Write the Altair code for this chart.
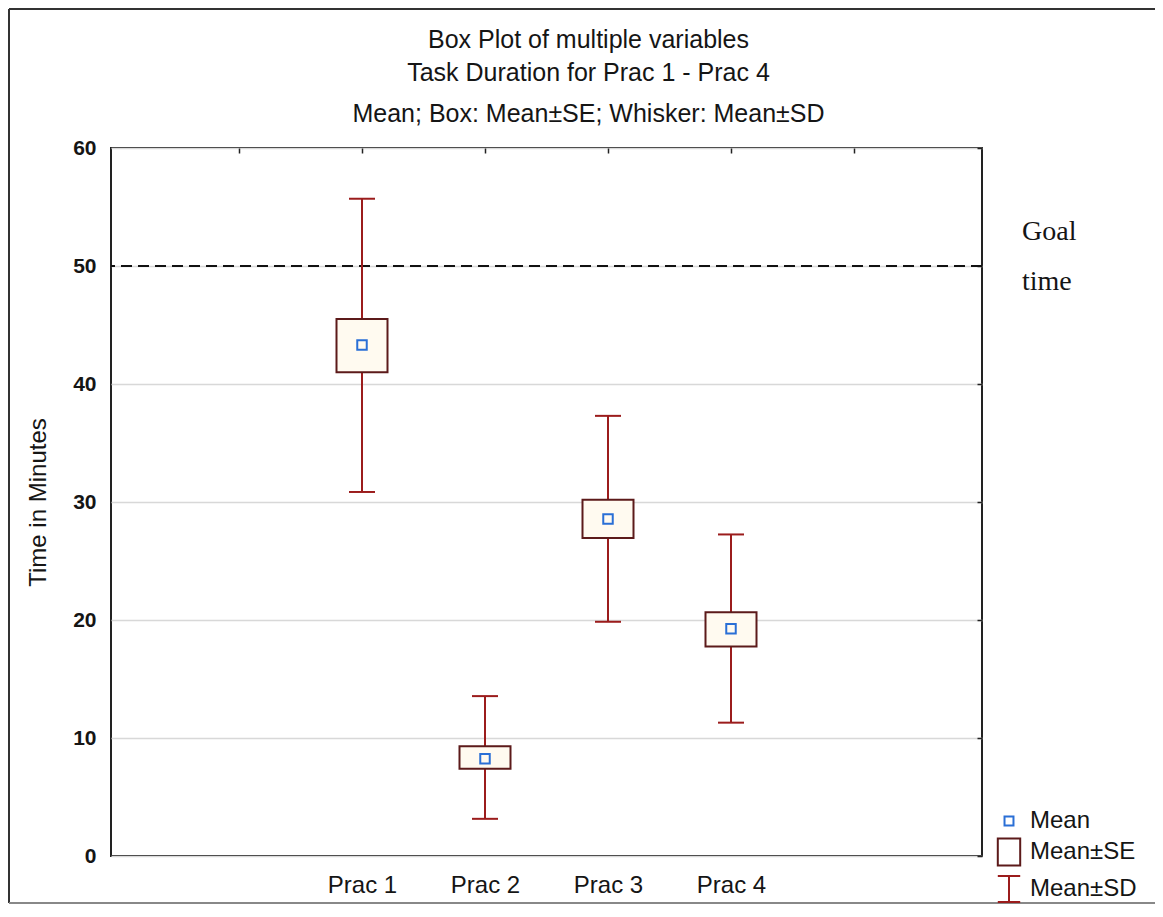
import altair as alt
import pandas as pd

# ---- data ----
categories = ["Prac 1", "Prac 2", "Prac 3", "Prac 4"]
means = [43.3, 8.25, 28.55, 19.25]
se_low = [41.0, 7.4, 26.95, 17.75]
se_high = [45.5, 9.3, 30.2, 20.65]
sd_low = [30.85, 3.15, 19.85, 11.3]
sd_high = [55.7, 13.55, 37.3, 27.25]
goal_time = 50
goal_label = "Goal\ntime"
y_ticks = [0, 10, 20, 30, 40, 50, 60]
legend_items = ["Mean", "Mean±SE", "Mean±SD"]

# ---- styling ----
W, H = 871, 708
BG = "#fffaf0"
C_MEAN = "#2a6fd6"
C_BOX = "#5c1a1a"
C_SD = "#9b1c1c"
TXT = "#151515"
FONT = "Liberation Sans"

n = len(categories)
slots = [i + 2 for i in range(n)]          # slot 1 and n+2 are empty
df = pd.DataFrame({
    "cat": categories, "slot": slots, "mean": means,
    "se_low": se_low, "se_high": se_high,
    "sd_low": sd_low, "sd_high": sd_high,
})

label_arr = ["''"] * (n + 4)
for s, c in zip(slots, categories):
    label_arr[s] = "'" + c + "'"
label_expr = "[" + ",".join(label_arr) + "][datum.value]"

xs = alt.Scale(domain=[0, n + 3], nice=False, zero=False)
ys = alt.Scale(domain=[min(y_ticks), max(y_ticks)], nice=False, zero=False)

x_main = alt.X("slot:Q", scale=xs, title=None,
               axis=alt.Axis(values=slots, labelExpr=label_expr, ticks=False,
                             grid=False, domain=False, labelFont=FONT,
                             labelFontSize=24, labelColor=TXT, labelPadding=17))
y_main = alt.Y("mean:Q", scale=ys, title="Time in Minutes",
               axis=alt.Axis(values=y_ticks, grid=True, gridColor="#d8d8d8",
                             gridWidth=1.5, ticks=False, domain=False,
                             labelFont=FONT, labelFontSize=21, labelFontWeight="bold",
                             labelColor=TXT, labelPadding=15,
                             titleFont=FONT, titleFontSize=24, titleFontWeight="normal",
                             titleColor=TXT, titlePadding=22))
x_na = alt.X("slot:Q", scale=xs, axis=None)

base = alt.Chart(df)

axes_layer = base.mark_point(opacity=0).encode(x=x_main, y=y_main)

top_right = base.mark_point(opacity=0).encode(
    x=alt.X("slot:Q", scale=xs, title=None,
            axis=alt.Axis(orient="top", values=list(range(1, n + 3)), labels=False,
                          grid=False, domain=False, ticks=True, tickSize=5,
                          tickColor="#222", tickWidth=1.5, offset=-5)),
    y=alt.Y("mean:Q", scale=ys, title=None,
            axis=alt.Axis(orient="right", values=y_ticks, labels=False,
                          grid=False, domain=False, ticks=True, tickSize=5,
                          tickColor="#222", tickWidth=1.5, offset=-5)),
)

whisker = base.mark_rule(color=C_SD, strokeWidth=2).encode(
    x=x_na, y=alt.Y("sd_low:Q", scale=ys, axis=None), y2="sd_high:Q")
cap_lo = base.mark_tick(orient="horizontal", size=26, thickness=2, color=C_SD, opacity=1).encode(
    x=x_na, y=alt.Y("sd_low:Q", scale=ys, axis=None))
cap_hi = base.mark_tick(orient="horizontal", size=26, thickness=2, color=C_SD, opacity=1).encode(
    x=x_na, y=alt.Y("sd_high:Q", scale=ys, axis=None))
box = base.mark_bar(orient="vertical", size=51, fill=BG, stroke=C_BOX, strokeWidth=2).encode(
    x=x_na, y=alt.Y("se_low:Q", scale=ys, axis=None), y2="se_high:Q")
mean_pt = base.mark_point(shape="square", size=90, filled=False, color=C_MEAN,
                          strokeWidth=2, opacity=1).encode(
    x=x_na, y=alt.Y("mean:Q", scale=ys, axis=None))

gdf = pd.DataFrame({"goal": [goal_time], "label": [goal_label]})
goal_rule = alt.Chart(gdf).mark_rule(color="#111", strokeWidth=2, strokeDash=[11, 6]).encode(
    y=alt.Y("goal:Q", scale=ys, axis=None))
goal_text = alt.Chart(gdf).mark_text(
    align="left", baseline="alphabetic", font="Liberation Serif", fontSize=28,
    lineBreak="\n", lineHeight=50, dy=-26, color=TXT).encode(
    x=alt.value(W + 40), y=alt.Y("goal:Q", scale=ys, axis=None), text="label:N")

legend_paths = [
    "M-0.32,-0.32H0.32V0.32H-0.32Z",
    "M-0.8,-0.97H0.8V0.97H-0.8Z",
    "M-0.8,-0.93H0.8M0,-0.93V0.93M-0.8,0.93H0.8",
]
ldf = pd.DataFrame({"item": legend_items})
legend_layer = alt.Chart(ldf).mark_point(opacity=0, size=784, filled=False, strokeWidth=2).encode(
    color=alt.Color("item:N", scale=alt.Scale(domain=legend_items,
                                             range=[C_MEAN, C_BOX, C_SD]),
                    legend=alt.Legend(title=None)),
    shape=alt.Shape("item:N", scale=alt.Scale(domain=legend_items, range=legend_paths),
                    legend=alt.Legend(title=None)),
)

frame_left = alt.Chart(gdf).mark_rule(color="#333", strokeWidth=2).encode(
    x=alt.value(-102), y=alt.value(-139), y2=alt.value(H + 47))
frame_top = alt.Chart(gdf).mark_rule(color="#333", strokeWidth=2).encode(
    x=alt.value(-102), x2=alt.value(W + 173), y=alt.value(-139))
frame_bottom = alt.Chart(gdf).mark_rule(color="#888", strokeWidth=2).encode(
    x=alt.value(-102), x2=alt.value(W + 173), y=alt.value(H + 47))

chart = alt.layer(
    axes_layer, top_right, goal_rule, whisker, cap_lo, cap_hi, box, mean_pt,
    goal_text, legend_layer, frame_left, frame_top, frame_bottom,
).resolve_axis(x="independent", y="independent").properties(
    width=W, height=H,
    autosize=alt.AutoSizeParams(type="none"),
    padding={"left": 103, "top": 140, "right": 173, "bottom": 48},
    title=alt.TitleParams(
        text=["Box Plot of multiple variables", "Task Duration for Prac 1 - Prac 4"],
        subtitle="Mean; Box: Mean±SE; Whisker: Mean±SD",
        font=FONT, fontSize=25, fontWeight="normal", color=TXT, lineHeight=33,
        subtitleFont=FONT, subtitleFontSize=25, subtitleColor=TXT, subtitlePadding=16,
        anchor="middle", frame="group", dx=42, dy=141, offset=22),
).configure_view(
    fill=BG, stroke="#222", strokeWidth=2
).configure_legend(
    orient="none", legendX=883, legendY=658, symbolSize=784, symbolStrokeWidth=2,
    symbolOpacity=1, labelFont=FONT, labelFontSize=24, labelColor=TXT,
    labelOffset=6, rowPadding=1, labelLimit=300,
)

chart.save("out.html", embed_options={"renderer": "svg", "actions": False})
